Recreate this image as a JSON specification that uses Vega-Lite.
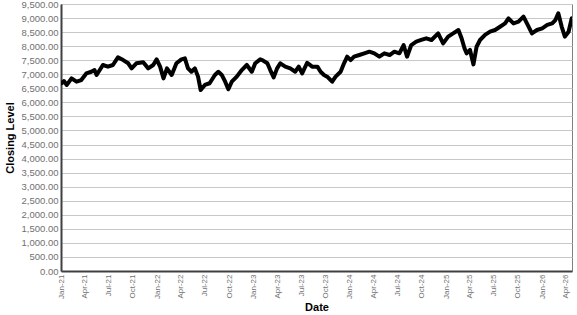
{
  "$schema": "https://vega.github.io/schema/vega-lite/v6.json",
  "width": 511,
  "height": 267,
  "autosize": "none",
  "padding": {"left": 61, "top": 4, "right": 5, "bottom": 44},
  "background": "white",
  "config": {
    "font": "Liberation Sans",
    "view": {"stroke": "#808080", "strokeWidth": 1}
  },
  "data": {
    "values": [
      {"date": "2021-01-01", "close": 6700},
      {"date": "2021-01-04", "close": 6680},
      {"date": "2021-01-12", "close": 6760},
      {"date": "2021-01-23", "close": 6620},
      {"date": "2021-02-10", "close": 6855},
      {"date": "2021-03-01", "close": 6735},
      {"date": "2021-03-19", "close": 6795},
      {"date": "2021-04-07", "close": 7030},
      {"date": "2021-04-26", "close": 7090},
      {"date": "2021-05-08", "close": 7150},
      {"date": "2021-05-16", "close": 6975},
      {"date": "2021-06-09", "close": 7330},
      {"date": "2021-06-28", "close": 7270},
      {"date": "2021-07-17", "close": 7330},
      {"date": "2021-08-05", "close": 7600},
      {"date": "2021-08-25", "close": 7505},
      {"date": "2021-09-13", "close": 7390},
      {"date": "2021-09-26", "close": 7210},
      {"date": "2021-10-14", "close": 7390},
      {"date": "2021-11-09", "close": 7425},
      {"date": "2021-11-28", "close": 7210},
      {"date": "2021-12-17", "close": 7330},
      {"date": "2021-12-30", "close": 7530},
      {"date": "2022-01-12", "close": 7270},
      {"date": "2022-01-25", "close": 6855},
      {"date": "2022-02-07", "close": 7210},
      {"date": "2022-02-25", "close": 6975},
      {"date": "2022-03-15", "close": 7390},
      {"date": "2022-04-03", "close": 7530},
      {"date": "2022-04-16", "close": 7565},
      {"date": "2022-04-28", "close": 7210},
      {"date": "2022-05-11", "close": 7090},
      {"date": "2022-05-24", "close": 7210},
      {"date": "2022-06-05", "close": 6915},
      {"date": "2022-06-15", "close": 6440},
      {"date": "2022-07-01", "close": 6620},
      {"date": "2022-07-19", "close": 6680},
      {"date": "2022-08-08", "close": 6975},
      {"date": "2022-08-21", "close": 7090},
      {"date": "2022-09-03", "close": 6975},
      {"date": "2022-09-16", "close": 6735},
      {"date": "2022-09-28", "close": 6465},
      {"date": "2022-10-11", "close": 6735},
      {"date": "2022-10-30", "close": 6915},
      {"date": "2022-11-18", "close": 7150},
      {"date": "2022-12-07", "close": 7330},
      {"date": "2022-12-26", "close": 7090},
      {"date": "2023-01-08", "close": 7390},
      {"date": "2023-01-27", "close": 7530},
      {"date": "2023-02-04", "close": 7505},
      {"date": "2023-02-23", "close": 7390},
      {"date": "2023-03-06", "close": 7150},
      {"date": "2023-03-19", "close": 6890},
      {"date": "2023-04-01", "close": 7210},
      {"date": "2023-04-13", "close": 7390},
      {"date": "2023-05-02", "close": 7270},
      {"date": "2023-05-21", "close": 7210},
      {"date": "2023-06-09", "close": 7090},
      {"date": "2023-06-22", "close": 7270},
      {"date": "2023-07-05", "close": 7030},
      {"date": "2023-07-24", "close": 7410},
      {"date": "2023-08-12", "close": 7270},
      {"date": "2023-09-01", "close": 7270},
      {"date": "2023-09-13", "close": 7090},
      {"date": "2023-09-26", "close": 6975},
      {"date": "2023-10-08", "close": 6915},
      {"date": "2023-10-27", "close": 6735},
      {"date": "2023-11-09", "close": 6915},
      {"date": "2023-11-28", "close": 7090},
      {"date": "2023-12-11", "close": 7390},
      {"date": "2023-12-23", "close": 7625},
      {"date": "2024-01-05", "close": 7505},
      {"date": "2024-01-18", "close": 7625},
      {"date": "2024-02-07", "close": 7685},
      {"date": "2024-02-26", "close": 7745},
      {"date": "2024-03-16", "close": 7805},
      {"date": "2024-04-04", "close": 7745},
      {"date": "2024-04-23", "close": 7625},
      {"date": "2024-05-12", "close": 7745},
      {"date": "2024-06-01", "close": 7685},
      {"date": "2024-06-19", "close": 7805},
      {"date": "2024-07-08", "close": 7745},
      {"date": "2024-07-24", "close": 8040},
      {"date": "2024-08-06", "close": 7625},
      {"date": "2024-08-22", "close": 8040},
      {"date": "2024-09-10", "close": 8160},
      {"date": "2024-09-29", "close": 8220},
      {"date": "2024-10-18", "close": 8280},
      {"date": "2024-11-07", "close": 8220},
      {"date": "2024-12-02", "close": 8455},
      {"date": "2024-12-21", "close": 8100},
      {"date": "2025-01-09", "close": 8340},
      {"date": "2025-01-28", "close": 8455},
      {"date": "2025-02-17", "close": 8575},
      {"date": "2025-03-01", "close": 8280},
      {"date": "2025-03-12", "close": 7925},
      {"date": "2025-03-20", "close": 7745},
      {"date": "2025-04-02", "close": 7865},
      {"date": "2025-04-15", "close": 7350},
      {"date": "2025-04-27", "close": 7980},
      {"date": "2025-05-10", "close": 8220},
      {"date": "2025-05-29", "close": 8400},
      {"date": "2025-06-17", "close": 8515},
      {"date": "2025-07-06", "close": 8575},
      {"date": "2025-07-25", "close": 8690},
      {"date": "2025-08-13", "close": 8810},
      {"date": "2025-08-26", "close": 8990},
      {"date": "2025-09-14", "close": 8810},
      {"date": "2025-10-03", "close": 8870},
      {"date": "2025-10-22", "close": 9050},
      {"date": "2025-11-04", "close": 8810},
      {"date": "2025-11-23", "close": 8455},
      {"date": "2025-12-12", "close": 8575},
      {"date": "2026-01-01", "close": 8635},
      {"date": "2026-01-20", "close": 8755},
      {"date": "2026-02-08", "close": 8810},
      {"date": "2026-02-20", "close": 8930},
      {"date": "2026-03-03", "close": 9170},
      {"date": "2026-03-16", "close": 8690},
      {"date": "2026-03-28", "close": 8340},
      {"date": "2026-04-11", "close": 8515},
      {"date": "2026-04-23", "close": 8990}
    ]
  },
  "mark": {"type": "line", "color": "black", "strokeWidth": 4, "strokeJoin": "round", "strokeCap": "round", "clip": true},
  "encoding": {
    "x": {
      "field": "date",
      "type": "temporal",
      "scale": {
        "type": "utc",
        "domain": [
          {"year": 2021, "month": 1, "date": 1, "utc": true},
          {"year": 2026, "month": 4, "date": 24, "utc": true}
        ],
        "nice": false
      },
      "axis": {
        "title": "Date",
        "titleFont": "Liberation Sans",
        "titleFontSize": 11,
        "titleFontWeight": "bold",
        "titleColor": "black",
        "titleBaseline": "top",
        "titleY": 30,
        "format": "%b-%y",
        "tickCount": {"interval": "month", "step": 3},
        "labelAngle": -90,
        "labelAlign": "right",
        "labelBaseline": "middle",
        "labelFontSize": 8,
        "labelColor": "#707070",
        "labelPadding": 3,
        "labelOverlap": false,
        "labelFlush": false,
        "ticks": false,
        "grid": false,
        "domainColor": "#404040",
        "domainWidth": 2
      }
    },
    "y": {
      "field": "close",
      "type": "quantitative",
      "scale": {"domain": [0, 9500], "nice": false, "zero": true},
      "axis": {
        "title": "Closing Level",
        "titleFont": "Liberation Sans",
        "titleFontSize": 11,
        "titleFontWeight": "bold",
        "titleColor": "black",
        "titlePadding": 6,
        "values": [0, 500, 1000, 1500, 2000, 2500, 3000, 3500, 4000, 4500, 5000, 5500, 6000, 6500, 7000, 7500, 8000, 8500, 9000, 9500],
        "format": ",.2f",
        "labelFontSize": 9.5,
        "labelColor": "#707070",
        "labelPadding": 3,
        "labelOverlap": false,
        "ticks": false,
        "gridColor": "#c8c8c8",
        "gridWidth": 1,
        "domainColor": "#404040",
        "domainWidth": 2
      }
    }
  }
}
